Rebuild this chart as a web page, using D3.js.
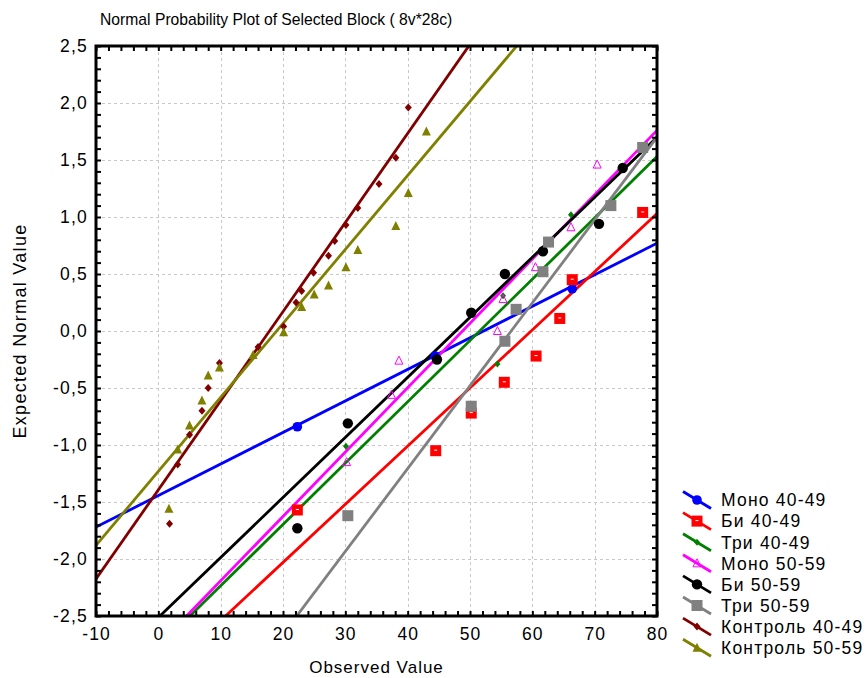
<!DOCTYPE html>
<html>
<head>
<meta charset="utf-8">
<script src="https://cdn.jsdelivr.net/npm/d3@7"></script>
<style>
  body { margin: 0; background: #fff; }
  svg text { font-family: "Liberation Sans", Arial, sans-serif; fill: #000; }
</style>
</head>
<body>
<div class="npp"></div>
<script>
// series names / colours, in legend order
const seriesNames = ["Моно 40-49", "Би 40-49", "Три 40-49", "Моно 50-59",
  "Би 50-59", "Три 50-59", "Контроль 40-49", "Контроль 50-59"];
const seriesColors = ["#0000ff", "#ff0000", "#008000", "#ff00ff",
  "#000000", "#808080", "#800000", "#808000"];
const seriesMarkers = ["circle", "square", "smalldiamond", "opentriangle",
  "bigcircle", "graysquare", "diamond", "triangle"];

// observed value, expected normal value
const mono4049 = [[22.3, -0.84], [44.4, -0.22], [66.4, 0.37]];
const bi4049 = [[22.3, -1.57], [44.5, -1.05], [50.2, -0.72], [55.5, -0.45],
  [60.6, -0.22], [64.4, 0.11], [66.4, 0.45], [77.7, 1.04]];
const tri4049 = [[30.1, -1.01], [54.4, -0.29], [55.3, 0.31], [66.2, 1.02]];
const mono5059 = [[30.2, -1.15], [37.4, -0.56], [38.6, -0.26], [54.4, 0.0],
  [55.3, 0.28], [60.5, 0.56], [66.2, 0.91], [70.4, 1.46]];
const bi5059 = [[22.3, -1.73], [30.4, -0.81], [44.7, -0.25], [50.2, 0.16],
  [55.6, 0.50], [61.7, 0.70], [70.7, 0.94], [74.5, 1.43]];
const tri5059 = [[30.4, -1.62], [50.2, -0.66], [55.6, -0.09], [57.4, 0.19],
  [61.7, 0.52], [62.6, 0.78], [72.6, 1.10], [77.7, 1.61]];
const ctrl4049 = [[1.8, -1.69], [3.1, -1.17], [5.0, -0.91], [7.0, -0.70],
  [8.0, -0.50], [9.8, -0.28], [16.0, -0.14], [20.1, 0.04], [22.1, 0.25],
  [23.0, 0.35], [24.9, 0.51], [27.3, 0.66], [28.3, 0.79], [30.1, 0.93],
  [32.0, 1.08], [35.4, 1.29], [38.1, 1.52], [40.1, 1.96]];
const ctrl5059 = [[1.7, -1.56], [3.1, -1.04], [5.0, -0.83], [7.0, -0.61],
  [8.0, -0.39], [9.8, -0.32], [15.2, -0.21], [20.1, -0.01], [23.0, 0.21],
  [25.0, 0.32], [27.3, 0.40], [30.1, 0.56], [32.0, 0.71], [38.1, 0.92],
  [40.1, 1.21], [43.0, 1.75]];
const seriesPoints = [mono4049, bi4049, tri4049, mono5059, bi5059, tri5059, ctrl4049, ctrl5059];

// fitted line: expected value at observed = -10 and at observed = 80
const fitEnds = [[-1.72, 0.77], [-3.56, 1.03], [-3.31, 1.53], [-3.32, 1.76],
  [-3.04, 1.70], [-4.84, 1.70], [-2.175, 4.86], [-1.88, 3.96]];

const xTickValues = [-10, 0, 10, 20, 30, 40, 50, 60, 70, 80];
const yTickValues = [-2.5, -2.0, -1.5, -1.0, -0.5, 0.0, 0.5, 1.0, 1.5, 2.0, 2.5];

const width = 867, height = 678;
const margin = {top: 46, right: 210, bottom: 62, left: 96};

const svg = d3.select('.npp').append('svg')
  .attr('width', width).attr('height', height);

const xScale = d3.scaleLinear().domain([-10, 80]).range([margin.left, width - margin.right]);
const yScale = d3.scaleLinear().domain([-2.5, 2.5]).range([height - margin.bottom, margin.top]);
const x0 = xScale.range()[0], x1 = xScale.range()[1];
const y0 = yScale.range()[1], y1 = yScale.range()[0];

svg.append('clipPath').attr('id', 'plotclip')
  .append('rect').attr('x', x0).attr('y', y0).attr('width', x1 - x0).attr('height', y1 - y0);

// dashed grid
const grid = svg.append('g').attr('stroke', '#c8c8c8').attr('stroke-dasharray', '3,3').attr('stroke-width', 1);
grid.selectAll('line.gx').data(xTickValues.slice(1, -1)).join('line')
  .attr('x1', d => Math.round(xScale(d)) + 0.5).attr('x2', d => Math.round(xScale(d)) + 0.5)
  .attr('y1', y0).attr('y2', y1);
grid.selectAll('line.gy').data(yTickValues.slice(1, -1)).join('line')
  .attr('class', 'gy')
  .attr('y1', d => Math.round(yScale(d)) + 0.5).attr('y2', d => Math.round(yScale(d)) + 0.5)
  .attr('x1', x0).attr('x2', x1);

// fitted lines
const plot = svg.append('g').attr('clip-path', 'url(#plotclip)');
plot.selectAll('line.fit').data(fitEnds).join('line')
  .attr('class', 'fit')
  .attr('x1', xScale(-10)).attr('y1', d => yScale(d[0]))
  .attr('x2', xScale(80)).attr('y2', d => yScale(d[1]))
  .attr('stroke', (d, i) => seriesColors[i])
  .attr('stroke-width', 2.8);

function drawMarker(sel, kind, color) {
  if (kind === 'circle') {
    sel.append('circle').attr('r', 4.8).attr('fill', color);
  } else if (kind === 'bigcircle') {
    sel.append('circle').attr('r', 5.2).attr('fill', color);
  } else if (kind === 'square') {
    sel.append('rect').attr('x', -5.5).attr('y', -5.5).attr('width', 11).attr('height', 11).attr('fill', color);
    sel.append('line').attr('x1', -1.5).attr('x2', 1.5).attr('y1', -0.5).attr('y2', -0.5)
      .attr('stroke', '#fff').attr('stroke-width', 1);
  } else if (kind === 'graysquare') {
    sel.append('rect').attr('x', -5.5).attr('y', -5.5).attr('width', 11).attr('height', 11).attr('fill', color);
  } else if (kind === 'smalldiamond') {
    sel.append('path').attr('d', 'M0,-3.5L3,0L0,3.5L-3,0Z').attr('fill', color);
  } else if (kind === 'diamond') {
    sel.append('path').attr('d', 'M0,-4L3.5,0L0,4L-3.5,0Z').attr('fill', color);
  } else if (kind === 'triangle') {
    sel.append('path').attr('d', 'M0,-5L4.5,4L-4.5,4Z').attr('fill', color);
  } else if (kind === 'opentriangle') {
    sel.append('path').attr('d', 'M0,-4.5L4,3.5L-4,3.5Z').attr('fill', 'none')
      .attr('stroke', color).attr('stroke-width', 1);
  }
}

// points
seriesPoints.forEach((pts, i) => {
  const g = plot.append('g');
  g.selectAll('g').data(pts).join('g')
    .attr('transform', d => `translate(${xScale(d[0])},${yScale(d[1])})`)
    .each(function() { drawMarker(d3.select(this), seriesMarkers[i], seriesColors[i]); });
});

// axes: inner ticks on all four sides
const minorX = d3.range(-10, 80.001, 2);
const minorY = d3.range(-25, 25.001, 1).map(v => v / 10);
svg.append('g').attr('transform', `translate(0,${y1})`)
  .call(d3.axisBottom(xScale).tickValues(minorX).tickSize(-5).tickFormat(''))
  .call(g => g.select('.domain').remove())
  .selectAll('line').attr('stroke-width', 2);
svg.append('g').attr('transform', `translate(0,${y0})`)
  .call(d3.axisTop(xScale).tickValues(minorX).tickSize(-5).tickFormat(''))
  .call(g => g.select('.domain').remove())
  .selectAll('line').attr('stroke-width', 2);
svg.append('g').attr('transform', `translate(${x0},0)`)
  .call(d3.axisLeft(yScale).tickValues(minorY).tickSize(-5).tickFormat(''))
  .call(g => g.select('.domain').remove())
  .selectAll('line').attr('stroke-width', 2);
svg.append('g').attr('transform', `translate(${x1},0)`)
  .call(d3.axisRight(yScale).tickValues(minorY).tickSize(-5).tickFormat(''))
  .call(g => g.select('.domain').remove())
  .selectAll('line').attr('stroke-width', 2);

// tick labels
const commaFmt = d => d3.format('.1f')(d).replace('.', ',').replace('−', '-');
svg.append('g').attr('transform', `translate(${x0 - 8},0)`)
  .call(d3.axisLeft(yScale).tickValues(yTickValues).tickSize(0).tickPadding(0).tickFormat(commaFmt))
  .call(g => g.select('.domain').remove())
  .selectAll('text').attr('font-size', 17.5).attr('letter-spacing', 1.2)
  .attr('font-family', '"Liberation Sans", Arial, sans-serif');
svg.append('g').attr('transform', `translate(0,${y1 + 10})`)
  .call(d3.axisBottom(xScale).tickValues(xTickValues).tickSize(0).tickPadding(2).tickFormat(d => String(d)))
  .call(g => g.select('.domain').remove())
  .selectAll('text').attr('font-size', 17.5).attr('letter-spacing', 1)
  .attr('font-family', '"Liberation Sans", Arial, sans-serif');

// frame
svg.append('rect').attr('x', x0).attr('y', y0).attr('width', x1 - x0).attr('height', y1 - y0)
  .attr('fill', 'none').attr('stroke', '#000').attr('stroke-width', 3);

// titles
svg.append('text').attr('x', 100).attr('y', 25).attr('font-size', 15.7)
  .text('Normal Probability Plot of Selected Block ( 8v*28c)');
svg.append('text').attr('x', (x0 + x1) / 2).attr('y', 673).attr('text-anchor', 'middle')
  .attr('font-size', 17).attr('letter-spacing', 1).text('Observed Value');
svg.append('text').attr('transform', `translate(26,${(y0 + y1) / 2}) rotate(-90)`)
  .attr('text-anchor', 'middle').attr('font-size', 18).attr('letter-spacing', 1.3)
  .text('Expected Normal Value');

// legend
const legend = svg.append('g');
seriesNames.forEach((name, i) => {
  const cy = 500 + i * 21.1;
  const row = legend.append('g').attr('transform', `translate(697,${cy})`);
  row.append('line').attr('x1', -14).attr('y1', -8.5).attr('x2', 14).attr('y2', 8.5)
    .attr('stroke', seriesColors[i]).attr('stroke-width', 2.8);
  drawMarker(row.append('g'), seriesMarkers[i], seriesColors[i]);
  row.append('text').attr('x', 24).attr('y', 0).attr('dy', '0.36em')
    .attr('font-size', 17.5).attr('letter-spacing', 1.2).text(name);
});
</script>
</body>
</html>
